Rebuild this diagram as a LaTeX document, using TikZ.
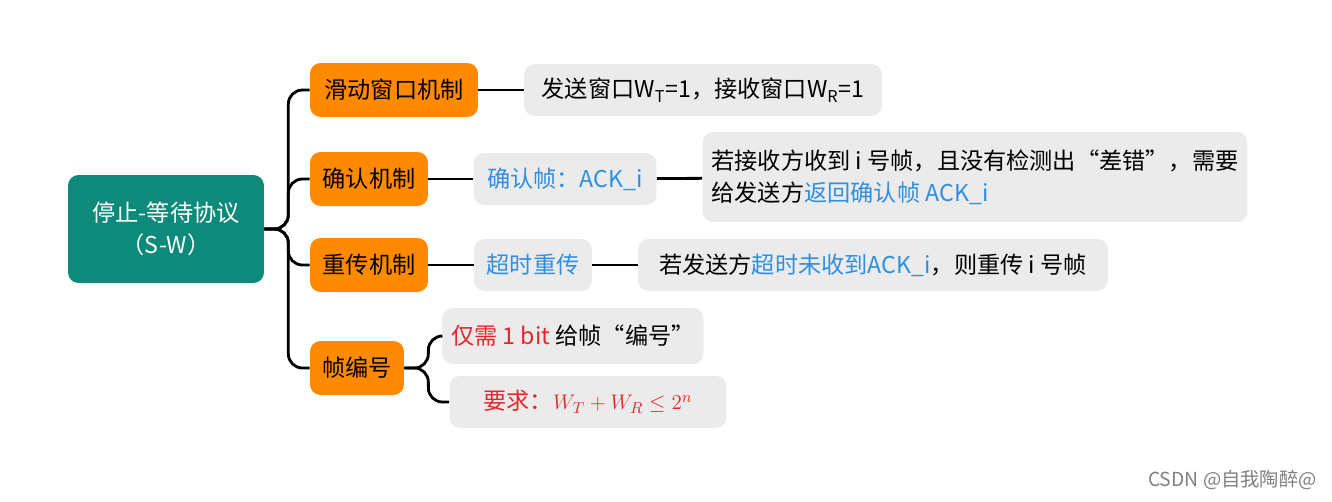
\documentclass[tikz,border=0pt]{standalone}
\usepackage{fontspec}
\setmainfont{Noto Sans CJK SC}
\usepackage{amsmath}
\usetikzlibrary{positioning}
\definecolor{rootgreen}{HTML}{0E8A7A}
\definecolor{leaforange}{HTML}{FF8A00}
\definecolor{leafgray}{HTML}{EBEBEB}
\definecolor{linkblue}{HTML}{2F8FE0}
\definecolor{warnred}{HTML}{E5262B}
\tikzstyle{conn} = [line width=1.6pt, rounded corners=8pt]

\begin{document}
\begin{tikzpicture}[
    x=0.02cm, y=-0.02cm,
    every node/.style={font=\fontsize{13.2}{18}\selectfont, inner sep=0pt, inner xsep=5pt},
    rootbox/.style={rectangle, rounded corners=6pt, fill=rootgreen, text=white, align=center},
    topic/.style={rectangle, rounded corners=6pt, fill=leaforange, minimum height=1.08cm},
    note/.style={rectangle, rounded corners=6pt, fill=leafgray, minimum height=1.04cm, align=left},
]
\useasboundingbox (0,0) rectangle (1332,501);

% Root
\node[rootbox, minimum width=3.92cm, minimum height=2.16cm] (root) at (166,229) {停止-等待协议\\（S-W）};

% Topics
\node[topic, minimum width=3.36cm] (window) at (394,90) {滑动窗口机制};
\node[topic, minimum width=2.36cm] (ack) at (369,179) {确认机制};
\node[topic, minimum width=2.36cm] (resend) at (369,265) {重传机制};
\node[topic, minimum width=1.88cm] (seq) at (357,368) {帧编号};

% Notes
\node[note, minimum width=7.16cm] (winsize) at (703,90) {发送窗口W\textsubscript{T}=1，接收窗口W\textsubscript{R}=1};
\node[note, minimum width=3.66cm, text=linkblue] (ackframe) at (565,179) {确认帧：ACK\_i};
\node[note, minimum width=10.9cm, minimum height=1.8cm] (ackrule) at (975,177) {若接收方收到 i 号帧，且没有检测出“差错”，需要\\给发送方\textcolor{linkblue}{返回确认帧 ACK\_i}};
\node[note, minimum width=2.36cm, text=linkblue] (timeout) at (533,265) {超时重传};
\node[note, minimum width=9.4cm] (timerule) at (873,265) {若发送方\textcolor{linkblue}{超时未收到ACK\_i}，则重传 i 号帧};
\node[note, minimum width=4.94cm, minimum height=1.12cm] (onebit) at (573,336) {\textcolor{warnred}{仅需 1 bit} 给帧“编号”};
\node[note, minimum width=5.54cm, text=warnred] (bound) at (588,402) {要求：$W_T+W_R\le 2^n$};

% Connectors
\foreach \t in {window,ack,resend,seq}
  \draw[conn] (root.east) -- ++(24,0) |- (\t.west);
\draw[conn] (window) -- (winsize);
\draw[conn] (ack) -- (ackframe);
\draw[conn] (ackframe) -- (ackrule);
\draw[conn] (resend) -- (timeout);
\draw[conn] (timeout) -- (timerule);
\foreach \t in {onebit,bound}
  \draw[conn] (seq.east) -- ++(24,0) |- (\t.west);

% Credit
\node[anchor=east, text=gray, font=\fontsize{11}{13}\selectfont] (credit) at (1326,480) {CSDN @自我陶醉@};
\end{tikzpicture}
\end{document}
